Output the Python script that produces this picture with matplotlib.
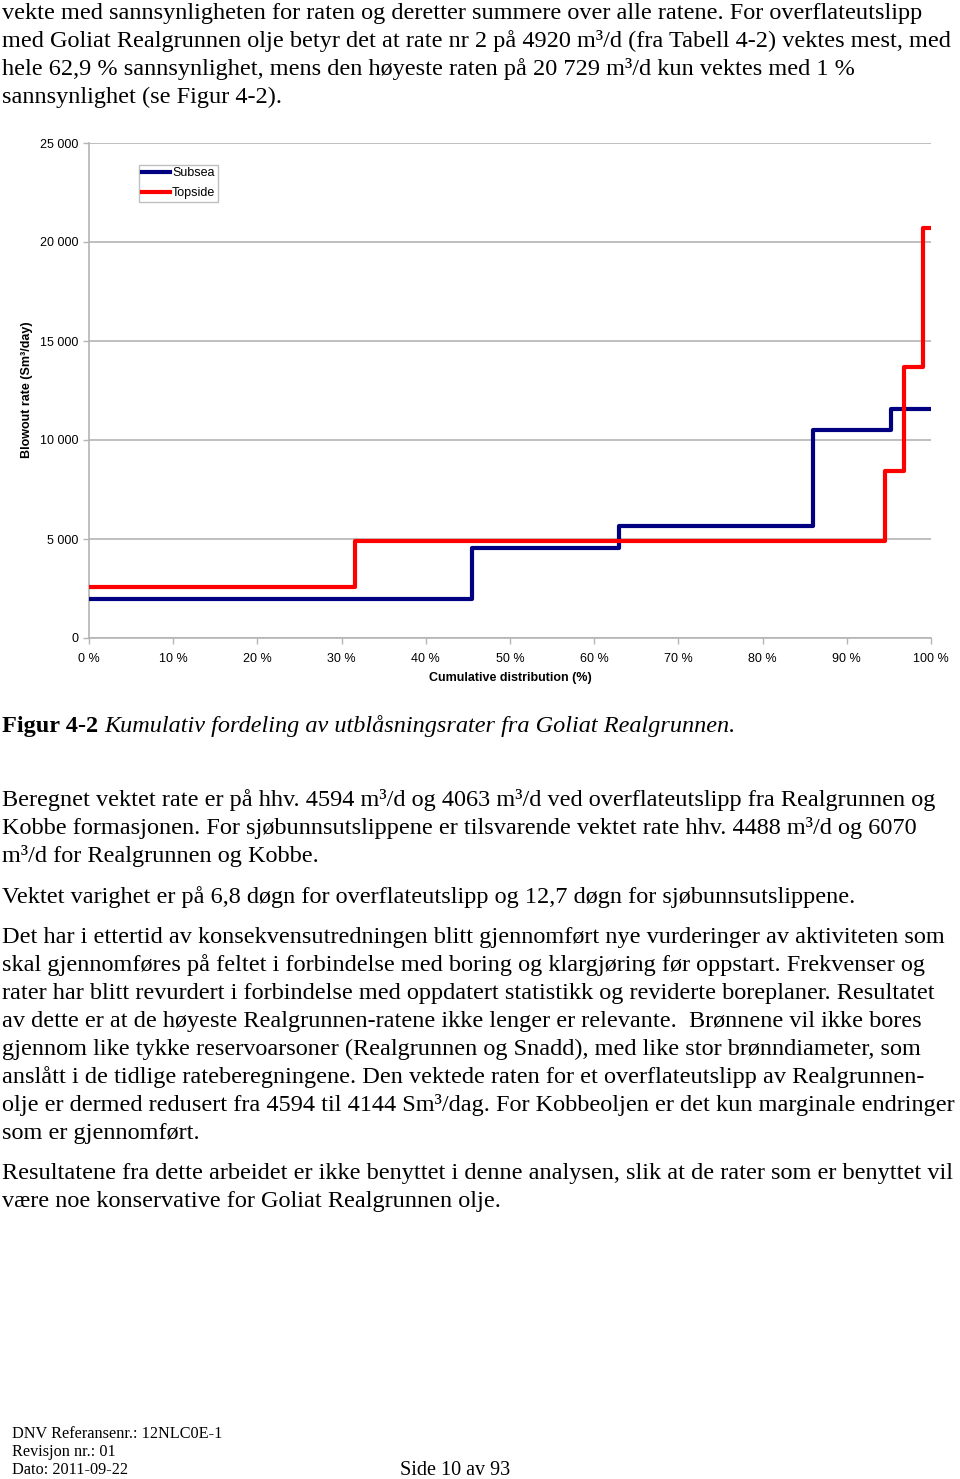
import numpy as np
import matplotlib
matplotlib.use('agg')
import matplotlib.pyplot as plt

W, H = 960, 1479

# chart data: probability (%) of each rate step and the rate (Sm3/day)
subsea_prob = [45.5, 17.4, 23.1, 9.2, 4.8]
subsea_rate = [1970, 4545, 5657, 10505, 11566]
topside_prob = [31.6, 62.9, 2.3, 2.2, 1.0]
topside_rate = [2576, 4920, 8434, 13687, 20729]

xticks = [0, 10, 20, 30, 40, 50, 60, 70, 80, 90, 100]
xtick_labels = [f"{v} %" for v in xticks]
yticks = [0, 5000, 10000, 15000, 20000, 25000]
ytick_labels = ["0", "5 000", "10 000", "15 000", "20 000", "25 000"]

text_top = [
    "vekte med sannsynligheten for raten og deretter summere over alle ratene. For overflateutslipp",
    "med Goliat Realgrunnen olje betyr det at rate nr 2 på 4920 m³/d (fra Tabell 4-2) vektes mest, med",
    "hele 62,9 % sannsynlighet, mens den høyeste raten på 20 729 m³/d kun vektes med 1 %",
    "sannsynlighet (se Figur 4-2).",
]
text_body = [
    (806, "Beregnet vektet rate er på hhv. 4594 m³/d og 4063 m³/d ved overflateutslipp fra Realgrunnen og"),
    (834, "Kobbe formasjonen. For sjøbunnsutslippene er tilsvarende vektet rate hhv. 4488 m³/d og 6070"),
    (862, "m³/d for Realgrunnen og Kobbe."),
    (903, "Vektet varighet er på 6,8 døgn for overflateutslipp og 12,7 døgn for sjøbunnsutslippene."),
    (943, "Det har i ettertid av konsekvensutredningen blitt gjennomført nye vurderinger av aktiviteten som"),
    (971, "skal gjennomføres på feltet i forbindelse med boring og klargjøring før oppstart. Frekvenser og"),
    (999, "rater har blitt revurdert i forbindelse med oppdatert statistikk og reviderte boreplaner. Resultatet"),
    (1027, "av dette er at de høyeste Realgrunnen-ratene ikke lenger er relevante.  Brønnene vil ikke bores"),
    (1055, "gjennom like tykke reservoarsoner (Realgrunnen og Snadd), med like stor brønndiameter, som"),
    (1083, "anslått i de tidlige rateberegningene. Den vektede raten for et overflateutslipp av Realgrunnen-"),
    (1111, "olje er dermed redusert fra 4594 til 4144 Sm³/dag. For Kobbeoljen er det kun marginale endringer"),
    (1139, "som er gjennomført."),
    (1179, "Resultatene fra dette arbeidet er ikke benyttet i denne analysen, slik at de rater som er benyttet vil"),
    (1207, "være noe konservative for Goliat Realgrunnen olje."),
]
footer = ["DNV Referansenr.: 12NLC0E-1", "Revisjon nr.: 01", "Dato: 2011-09-22"]

serif = 'Liberation Serif'
sans = 'Liberation Sans'
body_size = 17.5


def fx(x):
    return x / W


def fy(y):
    return 1 - y / H


def steps(prob, rate):
    edges = np.concatenate([[0], np.cumsum(prob)])
    vals = list(rate) + [rate[-1]]
    return edges, vals


fig = plt.figure(figsize=(W / 100, H / 100), dpi=100)
fig.patch.set_facecolor('white')

ax = fig.add_axes([fx(89), fy(638), (931 - 89) / W, (638 - 143) / H])
grid_c = '#b4b4b4'

x, y = steps(subsea_prob, subsea_rate)
ax.step(x, y, where='post', color='#000080', lw=3, label='Subsea', zorder=3)
x, y = steps(topside_prob, topside_rate)
ax.step(x, y, where='post', color='#ff0000', lw=3, label='Topside', zorder=3)

ax.set_xlim(0, 100)
ax.set_ylim(0, 25000)
ax.set_xticks(xticks)
ax.set_xticklabels(xtick_labels, fontsize=9, family=sans)
ax.set_yticks(yticks)
ax.set_yticklabels(ytick_labels, fontsize=9, family=sans)
ax.yaxis.grid(True, color=grid_c, lw=1.2)
ax.set_axisbelow(True)
for s in ['top', 'right']:
    ax.spines[s].set_visible(False)
for s in ['left', 'bottom']:
    ax.spines[s].set_color(grid_c)
    ax.spines[s].set_linewidth(1.2)
ax.tick_params(axis='both', colors=grid_c, length=4, width=1, labelcolor='black')
ax.tick_params(axis='y', pad=3.4)
ax.tick_params(axis='x', pad=6.5)

leg = ax.legend(loc='upper left', bbox_to_anchor=((139 - 89) / 842, (638 - 165) / 495),
                borderaxespad=0, frameon=True, fancybox=False, framealpha=1,
                prop={'family': sans, 'size': 9}, handlelength=2.3, handletextpad=0.15,
                borderpad=0.2, labelspacing=0.62)
leg.get_frame().set_edgecolor('#c0c0c0')
leg.get_frame().set_linewidth(1)

fig.text(fx(510), fy(678), "Cumulative distribution (%)", ha='center', va='center',
         fontsize=9, fontweight='bold', family=sans)
fig.text(fx(27), fy(390), "Blowout rate (Sm³/day)", ha='center', va='center',
         rotation=90, fontsize=9, fontweight='bold', family=sans)

# page text
for i, line in enumerate(text_top):
    fig.text(fx(2), fy(19 + 28 * i), line, ha='left', va='baseline',
             fontsize=body_size, family=serif)

cap = fig.text(fx(2), fy(732), "Figur 4-2", ha='left', va='baseline',
               fontsize=body_size, family=serif, fontweight='bold')
fig.canvas.draw()
bb = cap.get_window_extent()
fig.text((bb.x1 + 6) / W, fy(732), "Kumulativ fordeling av utblåsningsrater fra Goliat Realgrunnen.",
         ha='left', va='baseline', fontsize=body_size, family=serif, style='italic')

for yb, line in text_body:
    fig.text(fx(2), fy(yb), line, ha='left', va='baseline', fontsize=body_size, family=serif)

for i, line in enumerate(footer):
    fig.text(fx(12), fy(1438 + 18 * i), line, ha='left', va='baseline',
             fontsize=11.7, family=serif)
fig.text(fx(400), fy(1475), "Side 10 av 93", ha='left', va='baseline', fontsize=14.5, family=serif)

fig.savefig('out.png', dpi=100, facecolor='white')
